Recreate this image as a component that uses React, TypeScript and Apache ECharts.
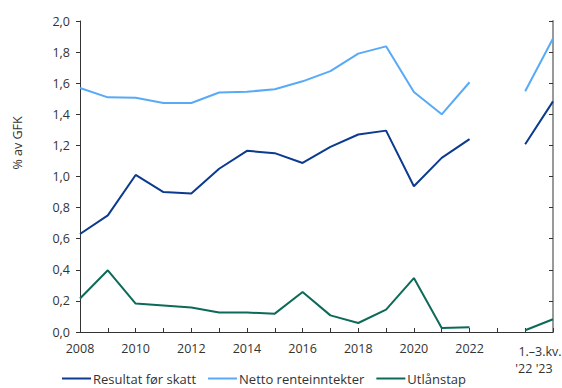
import React, { useEffect, useRef } from "react";
import * as echarts from "echarts";

const categories = [
  "2008", "2009", "2010", "2011", "2012", "2013", "2014", "2015", "2016",
  "2017", "2018", "2019", "2020", "2021", "2022", "gap", "q22", "q23",
];
const resultatForSkatt = [
  0.63, 0.75, 1.01, 0.9, 0.89, 1.05, 1.165, 1.15, 1.087, 1.19, 1.27, 1.295,
  0.937, 1.12, 1.24, null, 1.207, 1.483,
];
const nettoRenteinntekter = [
  1.569, 1.509, 1.507, 1.473, 1.473, 1.54, 1.545, 1.561, 1.612, 1.678, 1.79,
  1.837, 1.543, 1.4, 1.606, null, 1.548, 1.887,
];
const utlanstap = [
  0.215, 0.397, 0.183, 0.17, 0.157, 0.125, 0.125, 0.118, 0.257, 0.107, 0.058,
  0.144, 0.347, 0.026, 0.03, null, 0.011, 0.082,
];
const seriesNames = ["Resultat før skatt", "Netto renteinntekter", "Utlånstap"];
const colors = ["#0b3a8f", "#58aaf6", "#0d6a58"];
const yAxisName = "% av GFK";
const quarterLabel1 = "1.\u20133.kv.";
const quarterLabel2 = "'22 '23";

export default function App() {
  const ref = useRef<HTMLDivElement>(null);
  useEffect(() => {
    if (!ref.current) return;
    const chart = echarts.init(ref.current, null, { renderer: "svg" });
    const font = "Open Sans";
    const textColor = "#333";
    const fs = 12.5;
    const mkSeries = (name: string, data: (number | null)[], color: string) => ({
      name,
      type: "line",
      data,
      symbol: "none",
      connectNulls: false,
      lineStyle: { color, width: 2 },
      itemStyle: { color },
    });
    chart.setOption({
      animation: false,
      textStyle: { fontFamily: font },
      grid: { left: 80, right: 9, top: 21, bottom: 56, containLabel: false },
      legend: {
        top: 372,
        left: 62,
        padding: 0,
        itemWidth: 29,
        itemHeight: 2,
        itemGap: 12,
        icon: "rect",
        textStyle: { fontFamily: font, fontSize: 13, color: textColor, padding: [0, 0, 0, -3] },
        data: seriesNames,
      },
      xAxis: {
        type: "category",
        data: categories,
        boundaryGap: false,
        axisLine: { lineStyle: { color: "#333", width: 1 } },
        axisTick: { inside: true, length: 4, interval: 0, lineStyle: { color: "#333" } },
        axisLabel: {
          interval: 0,
          margin: 10,
          fontSize: fs,
          color: textColor,
          fontFamily: font,
          formatter: (v: string, i: number) => (i % 2 === 0 && i <= 14 ? v : ""),
        },
        splitLine: { show: false },
      },
      yAxis: [
        {
          type: "value",
          min: 0,
          max: 2,
          interval: 0.2,
          axisLine: { show: true, lineStyle: { color: "#333" } },
          axisTick: { show: true, length: 4, lineStyle: { color: "#333" } },
          axisLabel: {
            fontSize: fs,
            color: textColor,
            fontFamily: font,
            margin: 10,
            formatter: (v: number) => v.toFixed(1).replace(".", ","),
          },
          splitLine: { show: false },
        },
        {
          type: "value",
          min: 0,
          max: 2,
          interval: 0.2,
          position: "right",
          axisLine: { show: true, lineStyle: { color: "#999", width: 2 } },
          axisTick: { show: true, inside: true, length: 4, lineStyle: { color: "#333" } },
          axisLabel: { show: false },
          splitLine: { show: false },
        },
      ],
      graphic: [
        {
          type: "text",
          x: 17,
          y: 143,
          rotation: Math.PI / 2,
          style: {
            text: yAxisName,
            fontFamily: font,
            fontSize: fs,
            fill: textColor,
            align: "center",
            verticalAlign: "middle",
          },
        },
        {
          type: "text",
          x: 540,
          y: 351,
          style: {
            text: quarterLabel1,
            fontFamily: font,
            fontSize: fs,
            fill: textColor,
            align: "center",
            verticalAlign: "middle",
          },
        },
        {
          type: "text",
          x: 534,
          y: 368,
          style: {
            text: quarterLabel2,
            fontFamily: font,
            fontSize: fs,
            fill: textColor,
            align: "center",
            verticalAlign: "middle",
          },
        },
      ],
      series: [
        mkSeries(seriesNames[0], resultatForSkatt, colors[0]),
        mkSeries(seriesNames[1], nettoRenteinntekter, colors[1]),
        mkSeries(seriesNames[2], utlanstap, colors[2]),
      ],
    });
    return () => chart.dispose();
  }, []);
  return <div ref={ref} style={{ width: 562, height: 388, position: "absolute", left: 0, top: 0 }} />;
}
